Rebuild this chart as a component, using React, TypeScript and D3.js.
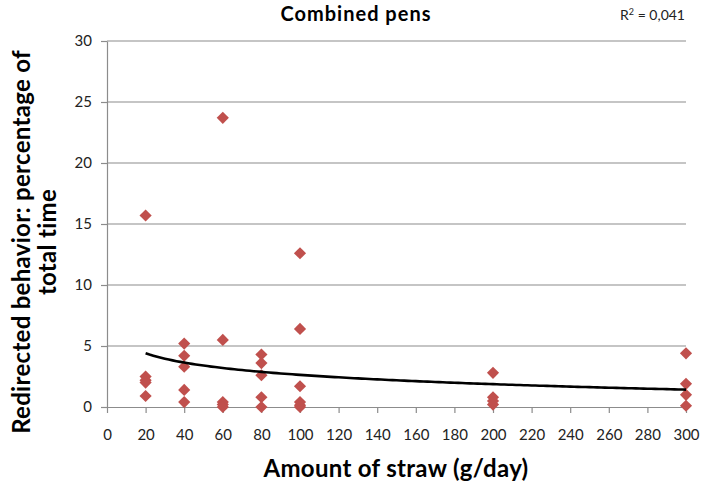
import { useRef, useEffect } from "react";
import * as d3 from "d3";

// straw amount (g/day) and redirected behaviour (% of total time), one entry per pen observation
const strawAmount = [
  20, 20, 20, 20, 20,
  40, 40, 40, 40, 40,
  60, 60, 60, 60, 60,
  80, 80, 80, 80, 80,
  100, 100, 100, 100, 100, 100,
  200, 200, 200, 200,
  300, 300, 300, 300,
];
const redirected = [
  15.7, 2.5, 2.2, 2.0, 0.9,
  5.2, 4.2, 3.3, 1.4, 0.4,
  23.7, 5.5, 0.4, 0.2, 0.0,
  4.3, 3.6, 2.6, 0.8, 0.0,
  12.6, 6.4, 1.7, 0.4, 0.15, 0.0,
  2.8, 0.8, 0.5, 0.2,
  4.4, 1.9, 1.0, 0.1,
];
// logarithmic trend line y = a*ln(x) + b, as shown in the chart
const trendA = -1.1;
const trendB = 7.7;
const xTicks = d3.range(0, 301, 20);
const yTicks = [0, 5, 10, 15, 20, 25, 30];

const W = 701;
const H = 483;
const margin = { top: 41, right: 15, bottom: 76, left: 107 };
const font = "Lato, 'Open Sans', sans-serif";

export default function App() {
  const svgRef = useRef(null);

  useEffect(() => {
    const svg = d3.select(svgRef.current);
    svg.selectAll("*").remove();

    const x = d3.scaleLinear().domain([0, 300]).range([margin.left, W - margin.right]);
    const y = d3.scaleLinear().domain([0, 30]).range([H - margin.bottom, margin.top]);

    // gridlines
    svg.append("g")
      .selectAll("line")
      .data(yTicks.filter((d) => d > 0))
      .join("line")
      .attr("x1", margin.left)
      .attr("x2", W - margin.right)
      .attr("y1", (d) => y(d))
      .attr("y2", (d) => y(d))
      .attr("stroke", "#8c8c8c")
      .attr("stroke-width", 1.2);

    const yAxis = svg.append("g")
      .attr("transform", `translate(${margin.left},0)`)
      .call(d3.axisLeft(y).tickValues(yTicks).tickSize(6).tickSizeOuter(0).tickPadding(9));
    const xAxis = svg.append("g")
      .attr("transform", `translate(0,${H - margin.bottom})`)
      .call(d3.axisBottom(x).tickValues(xTicks).tickSize(6).tickSizeOuter(0).tickPadding(16));

    [xAxis, yAxis].forEach((g) => {
      g.selectAll(".domain").attr("stroke", "#8c8c8c").attr("stroke-width", 1.2);
      g.selectAll(".tick line").attr("stroke", "#8c8c8c").attr("stroke-width", 1.2);
      g.selectAll(".tick text")
        .attr("fill", "#222")
        .style("font-family", font)
        .style("font-size", "15px");
    });

    // points
    const diamond = d3.symbol().type(d3.symbolSquare).size(74);
    svg.append("g")
      .selectAll("path")
      .data(strawAmount.map((s, i) => [s, redirected[i]]))
      .join("path")
      .attr("d", diamond)
      .attr("transform", (d) => `translate(${x(d[0])},${y(d[1])}) rotate(45)`)
      .attr("fill", "#c0504d");

    // trend line
    const trendX = d3.range(20, 300.1, 2);
    svg.append("path")
      .datum(trendX)
      .attr("fill", "none")
      .attr("stroke", "#000")
      .attr("stroke-width", 2.6)
      .attr("d", d3.line<number>()
        .x((d) => x(d))
        .y((d) => y(trendA * Math.log(d) + trendB)));

    // titles
    svg.append("text")
      .attr("x", 356)
      .attr("y", 21)
      .attr("text-anchor", "middle")
      .style("font-family", font)
      .style("font-weight", "bold")
      .style("font-size", "20px")
      .style("letter-spacing", "1px")
      .text("Combined pens");

    const r2 = svg.append("text")
      .attr("x", 685)
      .attr("y", 20)
      .attr("text-anchor", "end")
      .style("font-family", font)
      .style("font-size", "14px")
      .attr("fill", "#222");
    r2.append("tspan").text("R");
    r2.append("tspan").attr("dy", -5).style("font-size", "9px").text("2");
    r2.append("tspan").attr("dy", 5).text(" = 0,041");

    svg.append("text")
      .attr("x", 396)
      .attr("y", 477)
      .attr("text-anchor", "middle")
      .style("font-family", font)
      .style("font-weight", "bold")
      .style("font-size", "24px")
      .style("letter-spacing", "0.3px")
      .text("Amount of straw (g/day)");

    const yl = svg.append("text")
      .attr("transform", "translate(0,242) rotate(-90)")
      .attr("text-anchor", "middle")
      .style("font-family", font)
      .style("font-weight", "bold")
      .style("font-size", "24px")
      .style("letter-spacing", "0.3px");
    yl.append("tspan").attr("x", 0).attr("y", 30).text("Redirected behavior: percentage of");
    yl.append("tspan").attr("x", 0).attr("y", 56).text("total time");
  }, []);

  return (
    <svg
      ref={svgRef}
      width={W}
      height={H}
      style={{ position: "absolute", left: 0, top: 0, background: "#fff" }}
    />
  );
}
